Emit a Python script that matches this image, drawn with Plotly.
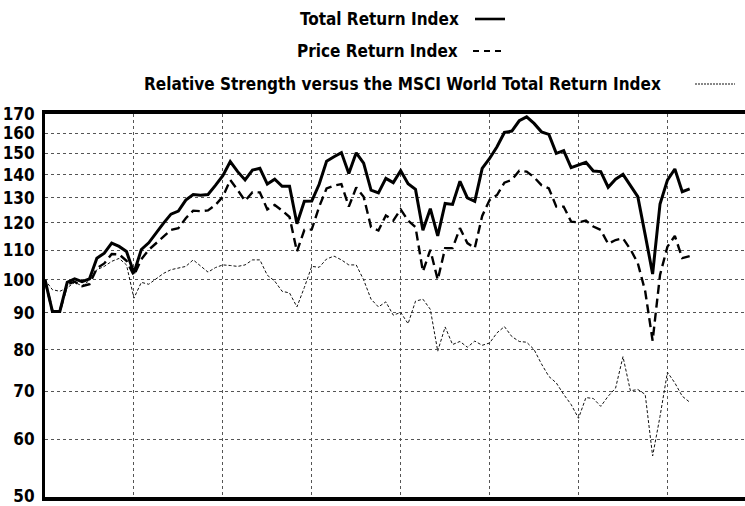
import math
import plotly.graph_objects as go

# Monthly index levels, rebased to 100 at the start
total_return = [
    100, 90.4, 90.4, 99.2, 100.3, 99.4, 100.3, 107.2, 108.9, 112.5, 111.3, 109.5,
    102.2, 110.2, 112.6, 116.4, 119.9, 123.4, 124.6, 129.1, 131.4, 131.1, 131.4, 135.3,
    139.6, 146.0, 141.4, 137.7, 142.1, 142.9, 135.9, 138.0, 134.9, 134.9, 119.7, 128.6,
    128.7, 135.8, 146.2, 148.3, 150.3, 140.6, 150.2, 145.3, 133.3, 132.1, 138.4, 136.5,
    141.8, 136.0, 133.6, 117.2, 125.6, 115.1, 127.7, 127.3, 137.1, 130.0, 128.6, 142.9,
    147.5, 153.1, 160.3, 161.0, 166.4, 168.5, 165.0, 160.6, 159.3, 149.9, 151.2, 143.2,
    144.4, 145.7, 141.7, 141.4, 134.5, 138.0, 140.2, 135.5, 130.5, 115.5, 101.9, 127.5,
    137.6, 142.6, 132.6, 133.8,
]
price_return = [
    100, 90.4, 90.4, 98.6, 99.4, 98.0, 98.6, 103.8, 105.4, 108.6, 108.5, 106.3,
    101.4, 106.8, 110.1, 112.5, 115.1, 117.3, 118.0, 121.8, 124.8, 124.6, 124.9, 127.1,
    130.5, 137.7, 133.3, 128.8, 132.4, 132.3, 125.3, 127.1, 124.8, 122.3, 109.5, 117.3,
    117.5, 126.4, 134.0, 135.2, 135.9, 126.4, 134.4, 130.5, 118.4, 117.1, 122.9, 120.9,
    125.3, 120.9, 118.4, 102.7, 110.1, 100.0, 110.7, 110.7, 118.0, 112.5, 110.7, 122.7,
    129.1, 131.2, 136.5, 137.7, 141.8, 141.4, 138.9, 135.4, 134.0, 126.4, 126.4, 120.5,
    120.2, 120.9, 118.6, 117.3, 112.2, 113.6, 114.2, 110.3, 105.5, 96.4, 82.3, 101.6,
    111.2, 115.1, 107.2, 107.9,
]
relative_strength = [
    100, 96.9, 96.4, 97.5, 99.2, 98.1, 99.8, 103.3, 104.4, 106.1, 107.1, 104.9,
    94.3, 99.2, 98.6, 100.2, 102.1, 103.3, 103.8, 104.4, 106.6, 104.4, 102.5, 104.0,
    104.9, 104.7, 104.4, 104.9, 106.6, 106.6, 101.5, 99.6, 96.4, 95.9, 91.7, 97.6,
    104.4, 104.1, 106.9, 107.9, 106.6, 104.9, 104.9, 100.0, 94.0, 91.7, 93.2, 89.3,
    90.1, 86.9, 93.4, 94.0, 91.0, 79.6, 86.0, 81.3, 82.1, 80.6, 82.2, 81.1,
    81.7, 84.4, 86.1, 83.4, 82.1, 81.9, 80.0, 76.4, 73.4, 71.9, 69.3, 67.1,
    64.2, 68.6, 68.4, 66.7, 68.9, 70.7, 78.2, 70.1, 70.4, 69.3, 56.9, 64.6,
    74.4, 71.9, 68.9, 67.6,
]

series_names = [
    "Total Return Index",
    "Price Return Index",
    "Relative Strength versus the MSCI World Total Return Index",
]
y_ticks = [50, 60, 70, 80, 90, 100, 110, 120, 130, 140, 150, 160, 170]
year_marks = [12, 24, 36, 48, 60, 72, 84]

months = list(range(len(total_return)))

W, H = 745, 506
ML, MR, MT, MB = 45, 0, 114, 9
plot_w = W - ML - MR
plot_h = H - MT - MB
px_per_month = 7.41

FONT = "DejaVu Sans Condensed, DejaVu Sans, sans-serif"

fig = go.Figure()
fig.add_trace(go.Scatter(x=months, y=relative_strength, mode="lines", name=series_names[2],
                         line=dict(color="#111", width=1, dash="3px,2px")))
fig.add_trace(go.Scatter(x=months, y=price_return, mode="lines", name=series_names[1],
                         line=dict(color="black", width=2.4, dash="9px,5px")))
fig.add_trace(go.Scatter(x=months, y=total_return, mode="lines", name=series_names[0],
                         line=dict(color="black", width=3)))


def px_x(p):
    return (p - ML) / plot_w


def px_y(p):
    return (H - MB - p) / plot_h


# Legend rows: text on the left, line sample on the right
legend_rows = [
    (series_names[0], 461, 19, 475, 505, dict(color="black", width=2.6)),
    (series_names[1], 460, 51, 473, 505, dict(color="black", width=2, dash="6px,5px")),
    (series_names[2], 663, 84, 695, 735, dict(color="#111", width=1, dash="2px,1px")),
]
for text, tx, ty, x0, x1, ln in legend_rows:
    fig.add_annotation(x=px_x(tx), y=px_y(ty), xref="paper", yref="paper",
                       text=f"<b>{text}</b>", showarrow=False, xanchor="right",
                       yanchor="middle", font=dict(family=FONT, size=17, color="black"))
    fig.add_shape(type="line", xref="paper", yref="paper",
                  x0=px_x(x0), x1=px_x(x1), y0=px_y(ty), y1=px_y(ty), line=ln)

fig.update_layout(
    width=W, height=H,
    margin=dict(l=ML, r=MR, t=MT, b=MB, pad=0),
    paper_bgcolor="white", plot_bgcolor="white",
    showlegend=False,
    font=dict(family=FONT, color="black"),
)
fig.update_xaxes(
    range=[0, plot_w / px_per_month],
    tickvals=year_marks, showticklabels=False, ticks="",
    showgrid=True, gridcolor="#555", gridwidth=1, griddash="dot",
    showline=True, linecolor="black", linewidth=4, mirror=True,
    zeroline=False, automargin=False,
)
fig.update_yaxes(
    type="log",
    range=[math.log10(49.9), math.log10(170.05)],
    tickvals=y_ticks, ticktext=[str(v) for v in y_ticks],
    ticks="", ticklabelstandoff=4, ticklabeloverflow="allow",
    tickfont=dict(family=FONT, size=17, color="black", weight="bold"),
    showgrid=True, gridcolor="#555", gridwidth=1, griddash="dot",
    showline=True, linecolor="black", linewidth=3,
    zeroline=False, automargin=False,
)

fig.write_html("out.html")
